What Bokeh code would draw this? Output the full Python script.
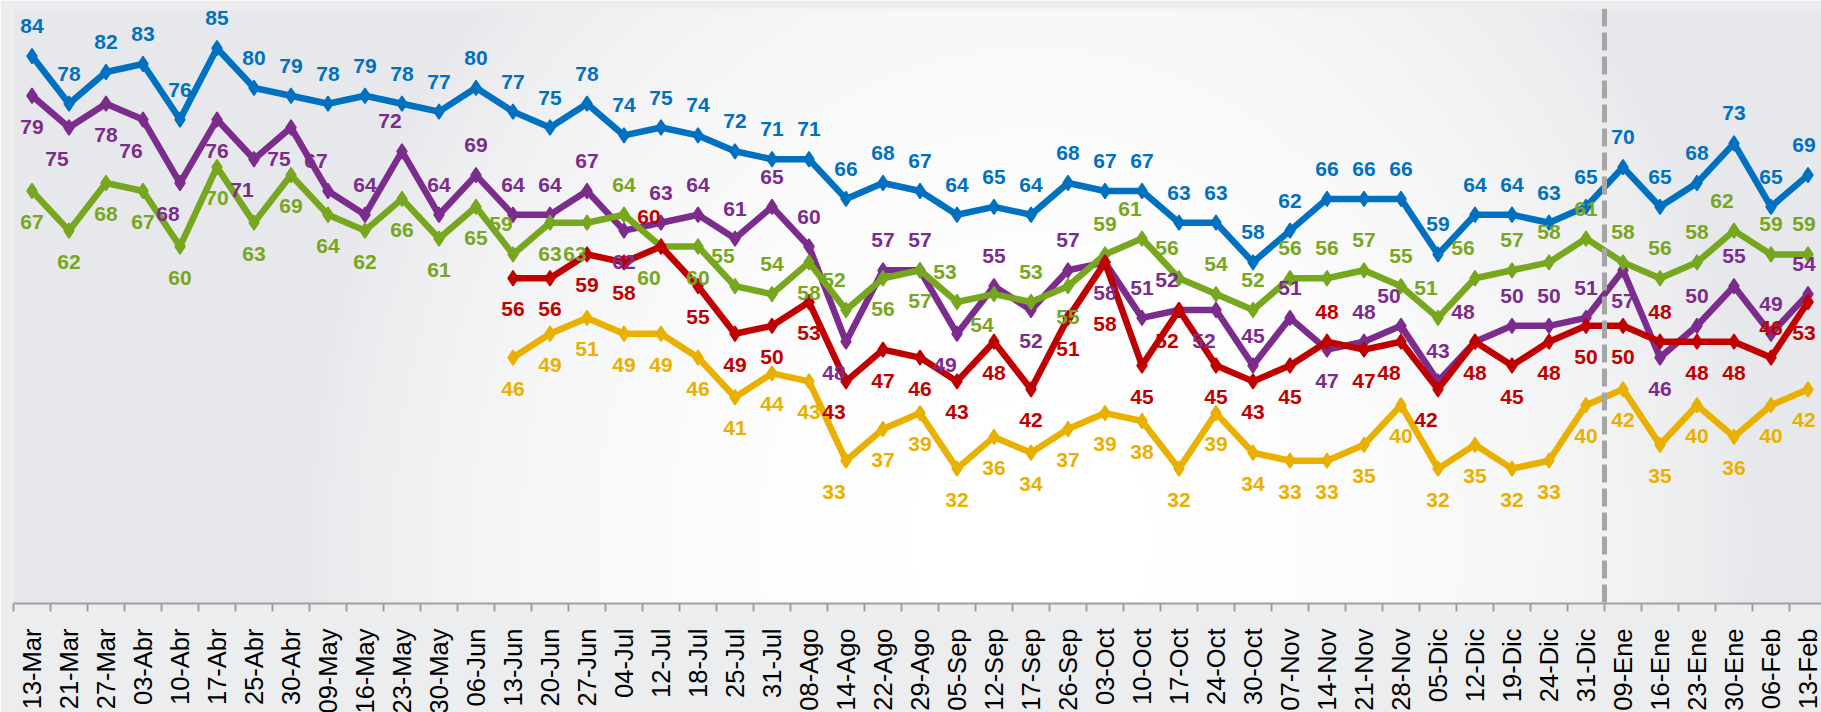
import numpy as np
from bokeh.plotting import figure
from bokeh.models import Range1d, FixedTicker, Span, ColumnDataSource
from bokeh.core.properties import value
from bokeh.embed import file_html
from bokeh.resources import INLINE

# ---------------- data ----------------
dates = ["13-Mar", "21-Mar", "27-Mar", "03-Abr", "10-Abr", "17-Abr", "25-Abr", "30-Abr",
         "09-May", "16-May", "23-May", "30-May", "06-Jun", "13-Jun", "20-Jun", "27-Jun",
         "04-Jul", "12-Jul", "18-Jul", "25-Jul", "31-Jul", "08-Ago", "14-Ago", "22-Ago",
         "29-Ago", "05-Sep", "12-Sep", "17-Sep", "26-Sep", "03-Oct", "10-Oct", "17-Oct",
         "24-Oct", "30-Oct", "07-Nov", "14-Nov", "21-Nov", "28-Nov", "05-Dic", "12-Dic",
         "19-Dic", "24-Dic", "31-Dic", "09-Ene", "16-Ene", "23-Ene", "30-Ene", "06-Feb",
         "13-Feb"]

blue = [84, 78, 82, 83, 76, 85, 80, 79, 78, 79, 78, 77, 80, 77, 75, 78, 74, 75, 74, 72,
        71, 71, 66, 68, 67, 64, 65, 64, 68, 67, 67, 63, 63, 58, 62, 66, 66, 66, 59, 64,
        64, 63, 65, 70, 65, 68, 73, 65, 69]

purple = [79, 75, 78, 76, 68, 76, 71, 75, 67, 64, 72, 64, 69, 64, 64, 67, 62, 63, 64, 61,
          65, 60, 48, 57, 57, 49, 55, 52, 57, 58, 51, 52, 52, 45, 51, 47, 48, 50, 43, 48,
          50, 50, 51, 57, 46, 50, 55, 49, 54]

green = [67, 62, 68, 67, 60, 70, 63, 69, 64, 62, 66, 61, 65, 59, 63, 63, 64, 60, 60, 55,
         54, 58, 52, 56, 57, 53, 54, 53, 55, 59, 61, 56, 54, 52, 56, 56, 57, 55, 51, 56,
         57, 58, 61, 58, 56, 58, 62, 59, 59]

red = [None] * 13 + [56, 56, 59, 58, 60, 55, 49, 50, 53, 43, 47, 46, 43, 48, 42, 51, 58, 45,
                     52, 45, 43, 45, 48, 47, 48, 42, 48, 45, 48, 50, 50, 48, 48, 48, 46, 53]

yellow = [None] * 13 + [46, 49, 51, 49, 49, 46, 41, 44, 43, 33, 37, 39, 32, 36, 34, 37, 39, 38,
                        32, 39, 34, 33, 33, 35, 40, 32, 35, 32, 33, 40, 42, 35, 40, 36, 40, 42]

# ---------------- styling ----------------
FONT = "Liberation Sans"
# label placement per point: a=above, b=below, A/B = shifted left, D = far below
POS_BLUE = "a" * 49
POS_PURPLE = "bBbBBbBB" + "AaAaaaaa" + "baaaaa" + "Baa" + "Bab" + "abaA" + "Baab" + "aAaAaaa" + "bbaaaa"
POS_GREEN = "b" * 13 + "AbBaBbAabAbbABabaAA" + "aaaaaa" + "AA" + "aaaaaa" + "Aaa"
POS_RED = "-" * 13 + "bbbb" + "A" + "bbbb" + "B" + "bbbbbb" + "D" + "b" + "B" + "bbb" + "a" + "b" + "BB" + "bbbbb" + "a" + "bb" + "a" + "b"
POS_YELLOW = "-" * 13 + "b" * 9 + "B" + "b" * 26

series = [
    (blue, "#0070C0", POS_BLUE),
    (purple, "#7B2C8C", POS_PURPLE),
    (green, "#77A61F", POS_GREEN),
    (red, "#C00000", POS_RED),
    (yellow, "#E9B000", POS_YELLOW),
]

N = len(dates)
x0, x1 = -0.5, N - 0.5 - 5 / 37
y0, y1 = 15, 90

p = figure(frame_width=1808, frame_height=595, x_range=Range1d(x0, x1), y_range=Range1d(y0, y1),
           output_backend="svg", toolbar_location=None,
           min_border_left=13, min_border_right=0, min_border_top=8, min_border_bottom=0)
p.border_fill_color = "#ecedef"
p.background_fill_color = "#e9eaec"
p.outline_line_color = None
p.grid.visible = False
p.yaxis.visible = False

# background radial highlight (decoration)
cols, rows = 452, 149
fw, fh = 1808, 595
jx = (np.arange(cols) + 0.5) * fw / cols + 13
iy = 603 - (np.arange(rows) + 0.5) * fh / rows
X, Y = np.meshgrid(jx, iy)
d = ((X - 1030) / 720) ** 2 + ((Y - 540) / 820) ** 2
w = np.clip(1 - d, 0, 1) ** 0.75
base = np.array([231, 232, 235], dtype=float)
rgb = base + (255 - base) * w[..., None]
img = np.empty((rows, cols), dtype=np.uint32)
view = img.view(dtype=np.uint8).reshape((rows, cols, 4))
view[..., 0:3] = np.round(rgb).astype(np.uint8)
view[..., 3] = 255
p.image_rgba(image=[img], x=x0, y=y0, dw=x1 - x0, dh=y1 - y0)

p.add_layout(Span(location=42.5, dimension="height", line_color="#a6a6a6",
                  line_width=5, line_dash="18 6"))

label_sources = []
for vals, color, pos in series:
    xs = [i for i, v in enumerate(vals) if v is not None]
    ys = [v for v in vals if v is not None]
    p.line(xs, ys, line_color=color, line_width=6.5)
    p.scatter(xs, ys, marker="diamond", size=15, line_width=1.5,
              fill_color=color, line_color=color)
    dx, dy = [], []
    for i in xs:
        c = pos[i]
        shift = -12 if c in "AB" else 0
        if i == N - 1:
            shift -= 4
        dx.append(shift)
        dy.append(-30 if c in "aA" else (62 if c == "D" else 31))
    label_sources.append((ColumnDataSource(dict(x=xs, y=ys, t=[str(v) for v in ys],
                                                 dx=dx, dy=dy)), color))

for src, color in label_sources:
    p.text(x="x", y="y", text="t", x_offset="dx", y_offset="dy", source=src,
           text_color=color, text_font=value(FONT), text_font_size="21px",
           text_font_style="bold", text_align="center", text_baseline="middle")

ax = p.xaxis[0]
ax.ticker = FixedTicker(ticks=list(range(N)), minor_ticks=[k - 0.5 for k in range(N + 1)])
ax.major_label_overrides = {i: lab for i, lab in enumerate(dates)}
ax.major_label_orientation = np.pi / 2
ax.major_tick_out = 0
ax.major_tick_in = 0
ax.minor_tick_out = 8
ax.minor_tick_in = 0
ax.minor_tick_line_color = "#a0a0a0"
ax.minor_tick_line_width = 2
ax.axis_line_color = "#a0a0a0"
ax.axis_line_width = 2
ax.major_label_text_font = FONT
ax.major_label_text_font_size = "25.5px"
ax.major_label_text_color = "#000000"
ax.major_label_standoff = 17

open("out.html", "w").write(file_html(p, INLINE))
